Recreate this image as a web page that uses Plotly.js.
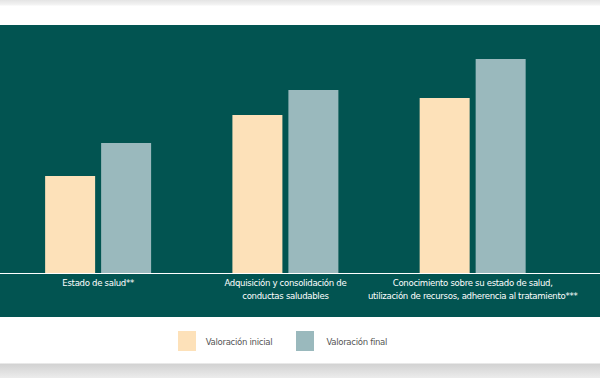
<!DOCTYPE html>
<html>
<head>
<meta charset="utf-8">
<script src="https://cdn.plot.ly/plotly-3.0.1.min.js"></script>
<style>
  html, body { margin:0; padding:0; width:600px; height:378px; overflow:hidden;
    background: linear-gradient(to bottom, #e4e4e4 0px, #f4f4f4 5px, #ffffff 6px, #ffffff 363px, #d2d2d2 364px, #ececec 378px); }
  #chart { width:600px; height:378px; }
  #chart .xtick text, #chart .annotation-text { letter-spacing: -0.3px; }
</style>
</head>
<body>
<div id="chart"></div>
<script>
const categories = [
  "Estado de salud**",
  "Adquisición y consolidación de<br>conductas saludables",
  "Conocimiento sobre su estado de salud,<br>utilización de recursos, adherencia al tratamiento***"
];
const seriesNames = ["Valoración inicial", "Valoración final"];
const valoracionInicial = [3.88, 6.32, 7.0];
const valoracionFinal = [5.2, 7.32, 8.56];

const COLORS = { inicial: "#fde1b9", final: "#9ab9bd", teal: "#025451" };
const FONT = "'Liberation Sans Narrow', 'Arial Narrow', 'DejaVu Sans Condensed', sans-serif";

const xIdx = categories.map((_, i) => i);

const traces = [
  { type: "bar", name: seriesNames[0], x: xIdx, y: valoracionInicial,
    marker: { color: COLORS.inicial }, hoverinfo: "skip", showlegend: false },
  { type: "bar", name: seriesNames[1], x: xIdx, y: valoracionFinal,
    marker: { color: COLORS.final }, hoverinfo: "skip", showlegend: false }
];

const legendShapes = [
  { type: "rect", xref: "paper", x0: 178/600, x1: 196/600,
    yref: "paper", ysizemode: "pixel", yanchor: 0, y0: -78, y1: -58,
    fillcolor: COLORS.inicial, line: { width: 0 } },
  { type: "rect", xref: "paper", x0: 296/600, x1: 314/600,
    yref: "paper", ysizemode: "pixel", yanchor: 0, y0: -78, y1: -58,
    fillcolor: COLORS.final, line: { width: 0 } }
];

const layout = {
  width: 600, height: 378,
  margin: { l: 0, r: 0, t: 25, b: 105, pad: 0 },
  paper_bgcolor: "rgba(0,0,0,0)",
  plot_bgcolor: "rgba(0,0,0,0)",
  barmode: "group",
  bargap: 0.402,
  bargroupgap: 0.107,
  showlegend: false,
  xaxis: {
    type: "linear",
    range: [-0.524, 2.680],
    tickmode: "array", tickvals: xIdx, ticktext: categories,
    tickangle: 0,
    showgrid: false, zeroline: false,
    showline: true, linecolor: "#ffffff", linewidth: 1,
    ticks: "", ticklabelstandoff: 1,
    tickfont: { family: FONT, size: 9.5, color: "#ffffff" },
    fixedrange: true
  },
  yaxis: {
    range: [0, 9.92],
    visible: false, showgrid: false, zeroline: false, fixedrange: true
  },
  shapes: [
    { type: "rect", layer: "below", xref: "paper", x0: 0, x1: 1,
      yref: "paper", ysizemode: "pixel", yanchor: 0, y0: -44, y1: 248,
      fillcolor: COLORS.teal, line: { width: 0 } }
  ].concat(legendShapes),
  annotations: [
    { text: seriesNames[0], xref: "paper", x: 201/600, xanchor: "left",
      yref: "paper", y: 0, yshift: -68, yanchor: "middle", showarrow: false,
      font: { family: FONT, size: 9.5, color: "#555555" } },
    { text: seriesNames[1], xref: "paper", x: 322/600, xanchor: "left",
      yref: "paper", y: 0, yshift: -68, yanchor: "middle", showarrow: false,
      font: { family: FONT, size: 9.5, color: "#555555" } }
  ]
};

Plotly.newPlot("chart", traces, layout, { displayModeBar: false, staticPlot: true });
</script>
</body>
</html>
